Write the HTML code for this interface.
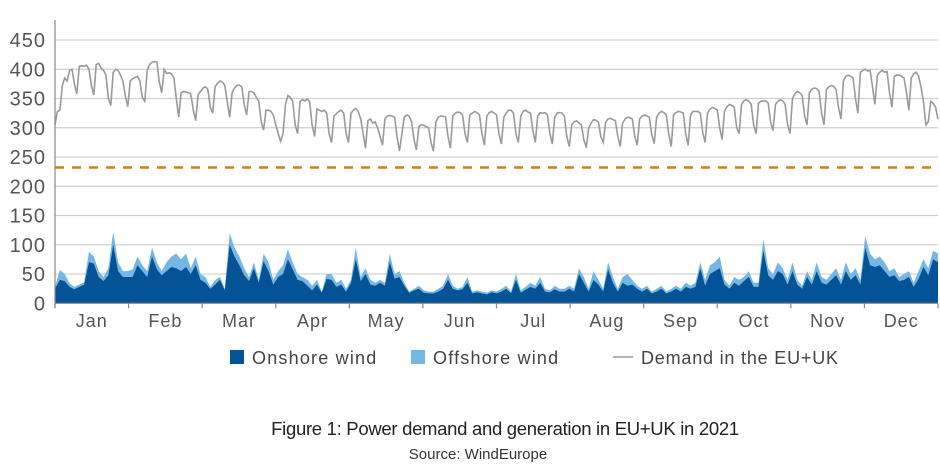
<!DOCTYPE html>
<html><head><meta charset="utf-8"><style>
body{margin:0;background:#fff;width:940px;height:471px;overflow:hidden;font-family:"Liberation Sans",sans-serif}
</style></head><body>
<svg id="chart" width="940" height="471" xmlns="http://www.w3.org/2000/svg"></svg>
<script>
const months=["Jan","Feb","Mar","Apr","May","Jun","Jul","Aug","Sep","Oct","Nov","Dec"];
const yTicks=[0,50,100,150,200,250,300,350,400,450];
const threshold=232;
const demand=[305,328,330,
372,385,380,398,400,375,358, 405,406,405,407,400,372,356, 408,410,402,398,390,350,338, 395,400,398,390,380,355,336,
380,384,386,388,380,352,345, 398,408,412,413,412,378,360, 400,393,394,392,385,350,318, 360,362,361,360,358,330,312,
357,362,368,370,366,335,325, 370,376,380,378,372,345,318, 360,368,372,373,370,340,322, 362,362,360,352,345,310,296,
330,330,328,322,305,290,277, 290,340,355,352,345,305,290, 345,348,346,349,344,305,285, 332,330,328,330,325,290,275,
320,324,328,330,325,290,275, 325,330,333,328,315,290,265, 312,315,308,310,300,285,270, 315,320,321,320,318,285,260,
290,318,322,320,310,280,262, 302,305,304,302,300,275,260, 310,318,320,320,318,285,265, 320,325,327,326,322,290,275,
322,325,328,326,322,290,270, 320,326,328,325,322,290,272, 318,325,330,330,325,290,275, 320,328,330,327,325,295,275,
320,326,325,326,322,290,272, 318,325,326,325,320,285,268, 305,310,312,308,305,280,266, 300,308,314,313,310,285,275,
310,315,316,314,312,285,268, 308,315,318,317,315,285,270, 315,320,322,320,318,288,273, 318,325,328,326,322,290,268,
322,326,328,327,325,290,270, 322,328,328,328,325,292,275, 325,332,335,333,330,300,280, 328,336,340,338,335,300,290,
340,346,348,345,340,305,290, 342,345,346,346,342,310,295, 340,345,348,346,340,305,290, 350,358,362,360,355,320,305,
360,366,368,367,362,325,305, 365,370,372,371,365,335,315, 380,388,390,388,385,350,325, 395,398,400,397,398,370,340,
390,395,398,395,396,360,335, 388,390,390,388,385,360,330, 385,392,395,388,370,345,305, 310,345,342,335,315];
const windTotal=[28,57,50,34,28,32,36,88,80,55,45,60,122,70,55,55,
58,80,65,55,95,70,55,70,80,85,75,85,60,80,
50,45,28,40,45,25,120,95,80,60,45,70,40,85,70,
40,55,65,92,70,50,45,40,30,40,20,50,50,35,40,
25,40,95,45,60,40,35,40,35,85,50,55,35,20,25,30,
22,20,20,25,30,50,30,25,28,45,20,22,20,18,22,
20,25,30,20,50,22,28,35,30,45,25,22,30,25,25,30,
25,60,45,25,55,40,25,70,45,25,45,50,40,30,25,30,
20,25,30,20,25,30,25,35,30,35,70,40,65,70,80,
40,30,45,40,45,55,35,35,110,60,50,70,60,40,70,40,
30,55,40,70,45,40,50,60,40,70,50,60,40,115,85,
75,80,70,55,60,45,50,55,35,55,75,60,90,85];
const onshore=[25,40,38,28,24,28,32,70,68,45,38,48,100,55,45,45,
45,65,55,45,80,58,48,55,62,60,55,62,50,65,
40,35,25,32,40,22,100,80,65,48,38,60,35,72,55,
32,45,50,75,58,40,38,30,22,32,18,42,40,28,32,
20,35,75,38,50,32,30,35,30,70,42,45,30,18,22,25,
18,17,17,20,25,40,25,22,24,35,17,19,17,15,19,
17,20,25,17,40,18,23,28,25,35,20,19,24,20,20,25,
20,50,35,20,40,32,20,58,35,20,35,30,32,25,20,25,
17,20,25,17,20,25,20,28,25,28,60,30,50,55,60,
32,25,35,30,38,45,28,28,90,48,40,55,50,32,55,32,
25,45,32,55,35,32,40,48,32,55,40,48,32,95,65,
62,65,55,45,48,38,40,45,28,42,62,48,75,70];

const NS="http://www.w3.org/2000/svg";
const svg=document.getElementById('chart');
const X0=55,X1=938,Y0=303.3,YT=40;
const days=365;
const x=d=>X0+(X1-X0)*d/(days-1);
const y=v=>Y0-(Y0-YT)*v/450;
function mk(tag,attrs,parent){const e=document.createElementNS(NS,tag);for(const k in attrs)e.setAttribute(k,attrs[k]);(parent||svg).appendChild(e);return e;}

yTicks.forEach(t=>{
  if(t>0){const g=mk('line',{x1:X0,x2:X1,y1:y(t),y2:y(t),stroke:'#cfcfcf','stroke-width':1.2});
  
  }
  const tx=mk('text',{x:46,y:y(t)+7,'text-anchor':'end','font-size':20,'letter-spacing':1,fill:'#555'});
  tx.textContent=t;
  
  
});

const step=(days-1)/(windTotal.length-1);
function area(vals,color,name){
  let d='M'+x(0)+','+y(0);
  vals.forEach((v,i)=>{d+=' L'+x(i*step).toFixed(1)+','+y(v).toFixed(1);});
  d+=' L'+x(days-1)+','+y(0)+' Z';
  const p=mk('path',{d:d,fill:color});
  
  
}
area(windTotal,'#74b7e4','offshore-wind-area');
area(onshore,'#045396','onshore-wind-area');

const th=mk('line',{x1:X0,x2:X1,y1:y(threshold),y2:y(threshold),stroke:'#c8860a','stroke-width':2.5,'stroke-dasharray':'9,8'});



let dd='';
demand.forEach((v,i)=>{dd+=(i?' L':'M')+x(i).toFixed(1)+','+y(v).toFixed(1);});
const dl=mk('path',{d:dd,fill:'none',stroke:'#9a9a9a','stroke-width':1.6});



const ax=mk('line',{x1:X0,x2:X0,y1:20,y2:308,stroke:'#888','stroke-width':1.2});


const bx=mk('line',{x1:X0,x2:X1,y1:Y0,y2:Y0,stroke:'#888','stroke-width':1.2});


const mw=(X1-X0)/12;
for(let i=0;i<=12;i++){
  const tk=mk('line',{x1:X0+i*mw,x2:X0+i*mw,y1:Y0,y2:Y0+5,stroke:'#888','stroke-width':1.2});
  
  
}
months.forEach((m,i)=>{
  const t=mk('text',{x:X0+(i+0.5)*mw,y:327,'text-anchor':'middle','font-size':18,'letter-spacing':1,fill:'#555'});
  t.textContent=m;
  
  
});

const lg=mk('g',{});


const r1=mk('rect',{x:230,y:350,width:14,height:14,fill:'#045396'},lg);


const t1=mk('text',{x:252,y:364,'font-size':18,'letter-spacing':1.2,fill:'#444'},lg);t1.textContent='Onshore wind';


const r2=mk('rect',{x:411,y:350,width:14,height:14,fill:'#74b7e4'},lg);


const t2=mk('text',{x:433,y:364,'font-size':18,'letter-spacing':1.2,fill:'#444'},lg);t2.textContent='Offshore wind';


const l3=mk('line',{x1:613,x2:633,y1:357,y2:357,stroke:'#9a9a9a','stroke-width':1.6},lg);


const t3=mk('text',{x:641,y:364,'font-size':18,'letter-spacing':0.8,fill:'#444'},lg);t3.textContent='Demand in the EU+UK';



const cap=mk('text',{x:505,y:435,'text-anchor':'middle','font-size':18.5,'letter-spacing':-0.3,fill:'#222'});
cap.textContent='Figure 1: Power demand and generation in EU+UK in 2021';


const src=mk('text',{x:478,y:459,'text-anchor':'middle','font-size':15,fill:'#333'});
src.textContent='Source: WindEurope';


</script>
</body></html>
